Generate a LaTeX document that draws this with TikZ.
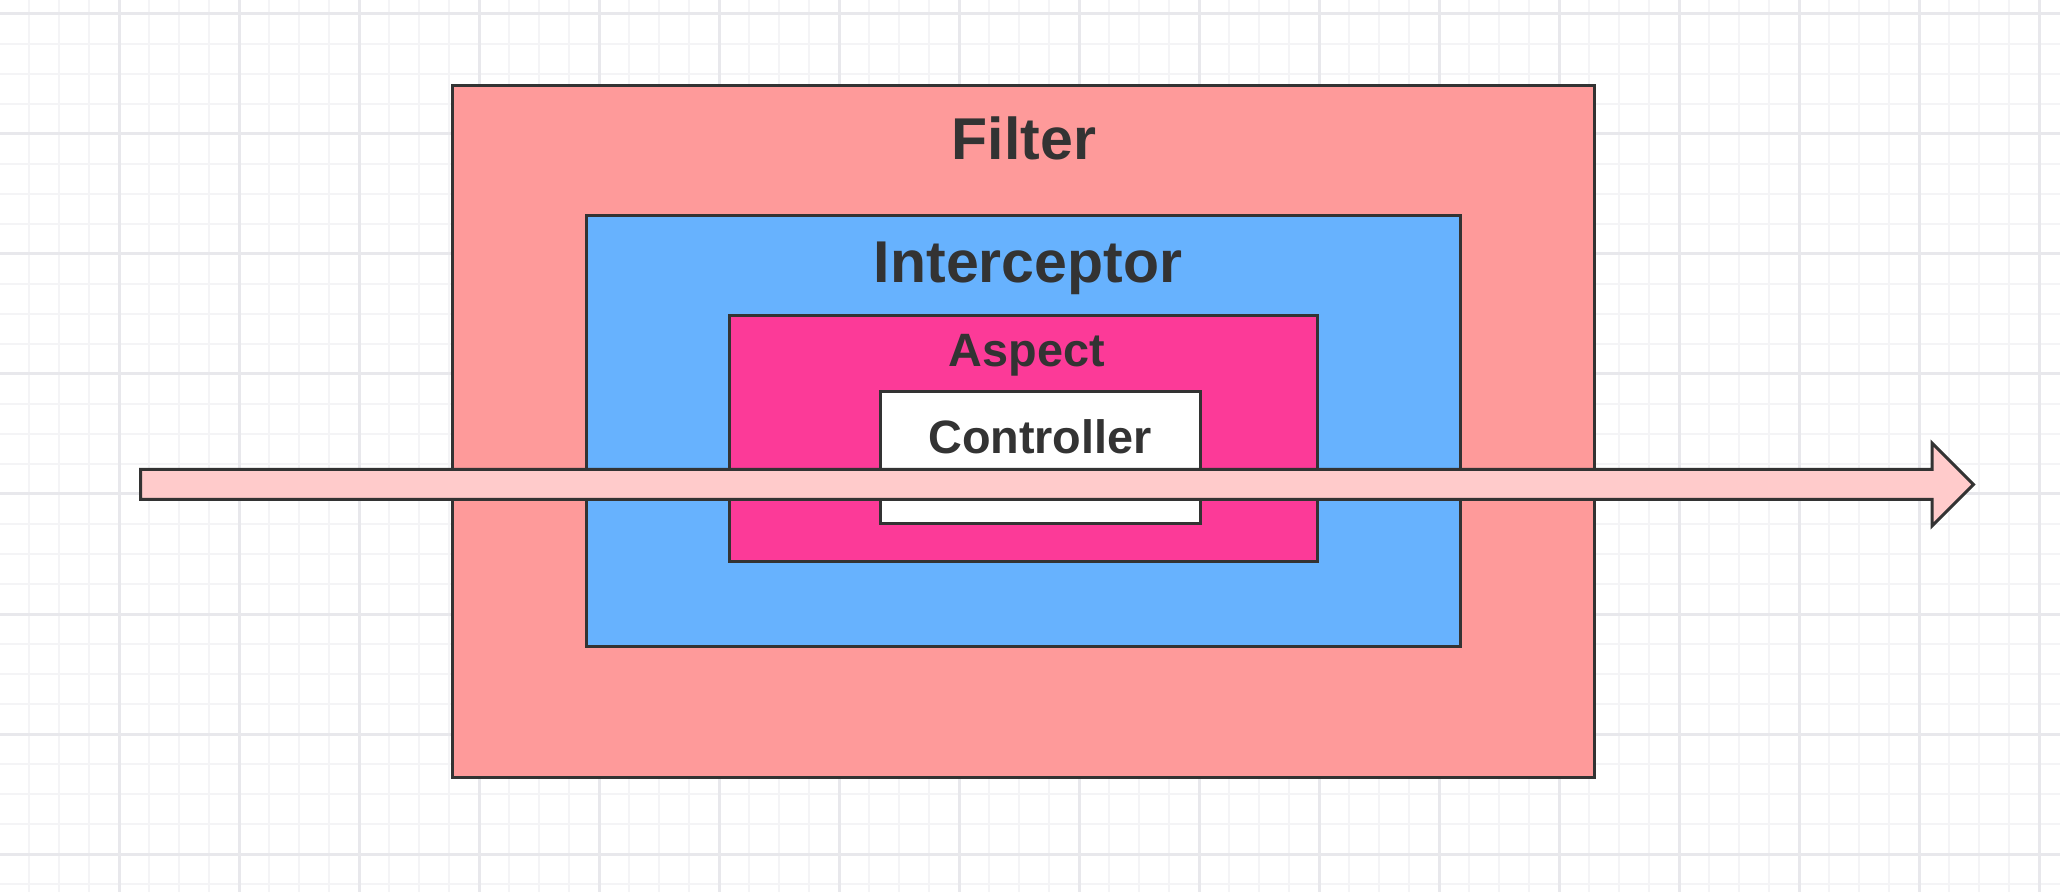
\documentclass[tikz,border=0pt]{standalone}
\usepackage{fontspec}
\setmainfont{Liberation Sans}
\usetikzlibrary{positioning,fit,shapes.arrows}
\definecolor{gridminor}{HTML}{F4F4F6}
\definecolor{gridmajor}{HTML}{E8E8EC}
\definecolor{edgec}{HTML}{333333}
\definecolor{filterc}{HTML}{FE9A9A}
\definecolor{interc}{HTML}{67B2FE}
\definecolor{aspectc}{HTML}{FC3A98}
\definecolor{flowc}{HTML}{FFCBCB}
\tikzset{layer/.style={draw=edgec, line width=1.5pt, inner sep=0pt},
  biglbl/.style={text=edgec, inner sep=0pt, anchor=base, font=\bfseries\fontsize{29.5}{29.5}\selectfont},
  smalllbl/.style={text=edgec, inner sep=0pt, anchor=base, font=\bfseries\fontsize{23.4}{23.4}\selectfont}}

\begin{document}
\begin{tikzpicture}[x=0.5pt, y=-0.5pt]
  \useasboundingbox (0,0) rectangle (2060,892);
  % grid
  \foreach \g in {29,59,...,2039} \draw[gridminor, line width=1pt] (\g,0) -- (\g,892);
  \foreach \g in {14,44,...,884} \draw[gridminor, line width=1pt] (0,\g) -- (2060,\g);
  \foreach \g in {119,239,...,2039} \draw[gridmajor, line width=1.5pt] (\g,0) -- (\g,892);
  \foreach \g in {14,134,...,854} \draw[gridmajor, line width=1.5pt] (0,\g) -- (2060,\g);
  % nested layers
  \node[layer, fill=filterc, fit={(452,86) (1594,777)}] (filter) {};
  \node[layer, fill=interc, fit={(586,216) (1460,646)}] (inter) {};
  \node[layer, fill=aspectc, fit={(729,316) (1317,561)}] (aspect) {};
  \node[layer, fill=white, fit={(880,392) (1200,524)}] (ctrl) {};
  \node[biglbl] (filterlbl) at (1024,160) {Filter};
  \node[biglbl] (interlbl) at (1028,283) {Interceptor};
  \node[smalllbl] (aspectlbl) at (1027,367) {Aspect};
  \node[smalllbl] (ctrllbl) at (1040,454) {Controller};
  % request flow
  \node[single arrow, draw=edgec, fill=flowc, line width=1.5pt,
        inner xsep=0pt, inner ysep=6.75pt, minimum height=916.5pt,
        minimum width=40pt, single arrow head extend=13.25pt,
        anchor=tail] (flow) at (139,484.5) {};
\end{tikzpicture}
\end{document}
